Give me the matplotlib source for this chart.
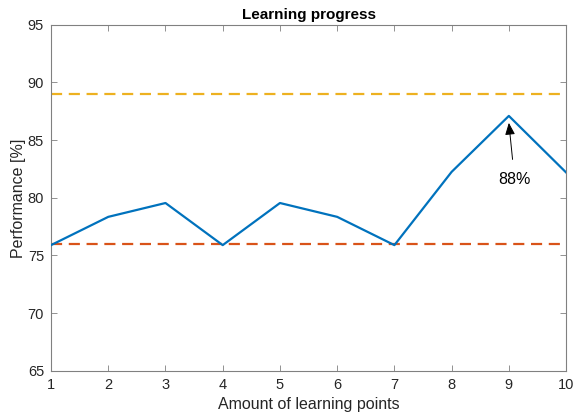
import matplotlib
matplotlib.use("Agg")
import matplotlib.pyplot as plt

# data
points = [1, 2, 3, 4, 5, 6, 7, 8, 9, 10]
performance = [75.9, 78.35, 79.55, 75.9, 79.55, 78.35, 75.9, 82.25, 87.1, 82.2]
upper_level = 89
lower_level = 76

plt.rcParams['font.family'] = ['Liberation Sans', 'DejaVu Sans']

fig = plt.figure(figsize=(5.8, 4.2), dpi=100)
ax = fig.add_axes([0.088, 0.117, 0.888, 0.824])

ax.plot(points, performance, color='#0072BD', lw=1.6, zorder=3)
ax.plot([points[0], points[-1]], [upper_level, upper_level], '--', color='#EDB120', lw=1.6, dashes=(5, 3))
ax.plot([points[0], points[-1]], [lower_level, lower_level], '--', color='#D95319', lw=1.6, dashes=(5, 3))

ax.annotate('88%', xy=(9, 86.5), xytext=(9.1, 81.6), ha='center', va='center', fontsize=11.5,
            arrowprops=dict(arrowstyle='-|>,head_width=0.25,head_length=0.6', color='black', lw=0.7,
                            mutation_scale=12, shrinkA=7, shrinkB=0))

ax.set_xlim(1, 10)
ax.set_ylim(65, 95)
ax.set_xticks(points)
ax.set_yticks(range(65, 96, 5))
ax.tick_params(direction='in', top=True, right=True, length=4, width=0.6, colors='#262626', labelsize=10.5, pad=5)
ax.tick_params(colors='#808080', labelcolor='#262626')
for s in ax.spines.values():
    s.set_color('#808080')
    s.set_linewidth(0.8)

ax.set_title('Learning progress', fontsize=11, fontweight='bold', pad=4)
ax.set_xlabel('Amount of learning points', fontsize=11.5, color='#262626', labelpad=4)
ax.set_ylabel('Performance [%]', fontsize=11.5, color='#262626', labelpad=1)

fig.savefig('out.png', dpi=100)
